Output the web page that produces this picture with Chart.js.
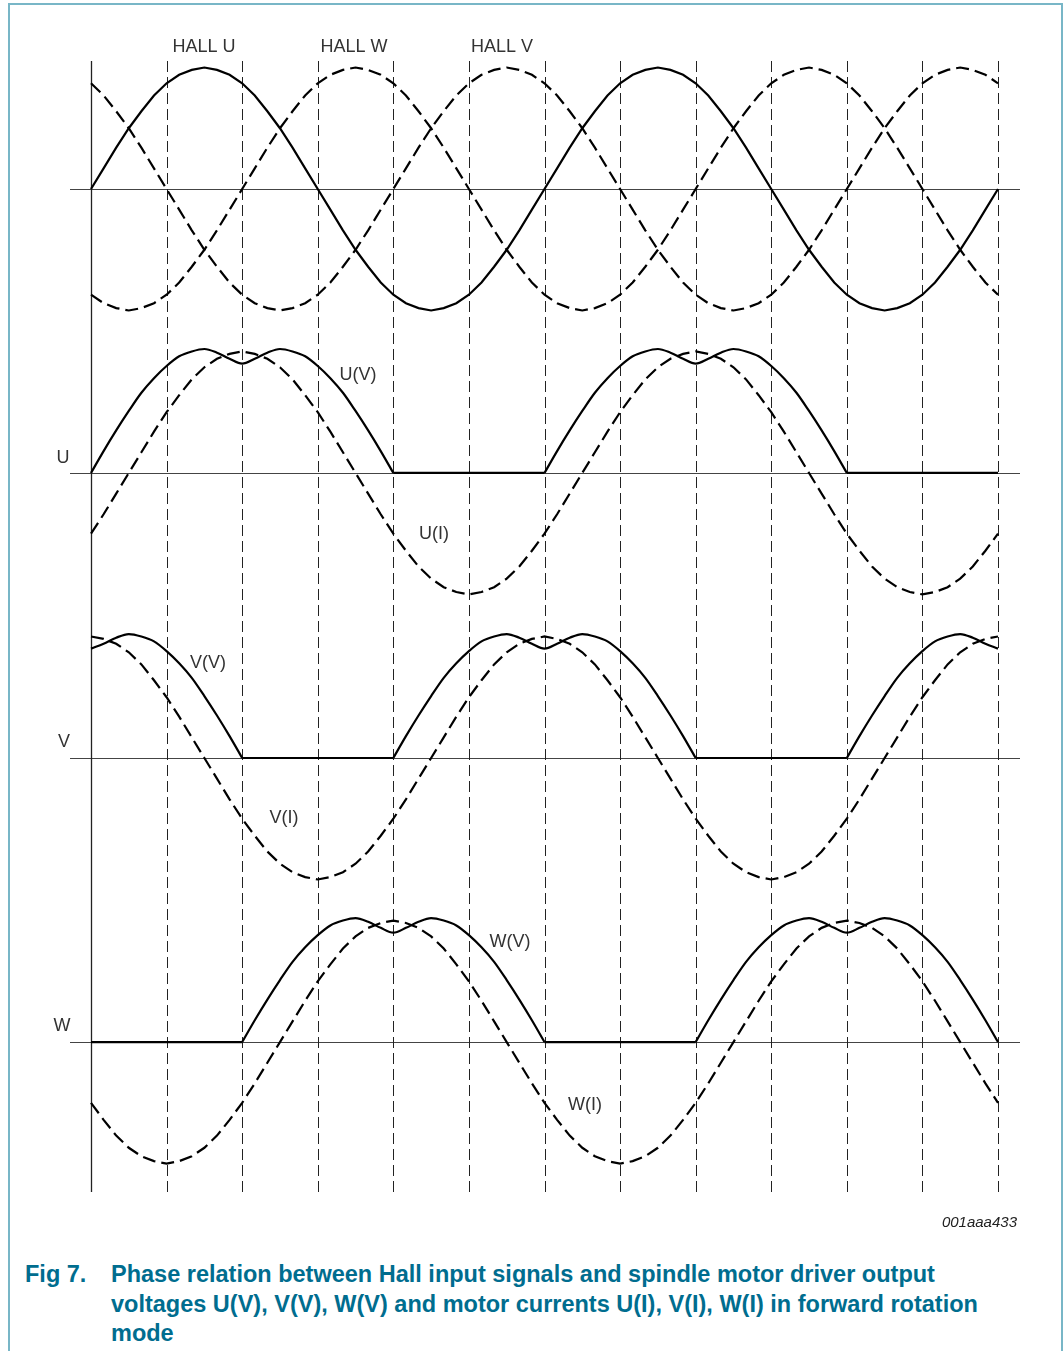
<!DOCTYPE html>
<html>
<head>
<meta charset="utf-8">
<script src="https://cdn.jsdelivr.net/npm/chart.js@4.4.0/dist/chart.umd.min.js"></script>
<style>
  html, body { margin: 0; padding: 0; background: #fff; }
  #page { position: relative; width: 1064px; height: 1351px; overflow: hidden; }
  #frame { position: absolute; left: 8px; top: 3px; width: 1055px; height: 1400px;
           border: 2px solid #78b6c7; border-bottom: none; box-sizing: border-box; }
  #graf { position: absolute; left: 0; top: 0; }
  #code { position: absolute; right: 47px; top: 1213px; color: #222;
          font: italic 15px "Liberation Sans", Arial, sans-serif; }
  #caption { position: absolute; left: 25px; top: 1260px; white-space: nowrap; color: #006d8f;
             font: bold 23.5px/29.5px "Liberation Sans", Arial, sans-serif; }
  #caption .fig { position: absolute; left: 0; top: 0; }
  #caption .txt { margin-left: 86px; }
</style>
</head>
<body>
<div id="page">
  <div id="frame"></div>
  <canvas id="graf" width="1064" height="1240"></canvas>
  <div id="code">001aaa433</div>
  <div id="caption">
    <span class="fig">Fig 7.</span>
    <div class="txt">Phase relation between Hall input signals and spindle motor driver output<br>voltages U(V), V(V), W(V) and motor currents U(I), V(I), W(I) in forward rotation<br>mode</div>
  </div>
</div>
<script>
// electrical angle in degrees, every 10 degrees over two periods
const angulos = [0,10,20,30,40,50,60,70,80,90,100,110,120,130,140,150,160,170,
  180,190,200,210,220,230,240,250,260,270,280,290,300,310,320,330,340,350,
  360,370,380,390,400,410,420,430,440,450,460,470,480,490,500,510,520,530,
  540,550,560,570,580,590,600,610,620,630,640,650,660,670,680,690,700,710,720];

// hall sensor signals (100 = peak)
const hallU = [0,17,34,50,64,77,87,94,98,100,98,94,87,77,64,50,34,17,0,-17,-34,-50,-64,-77,-87,-94,-98,-100,-98,-94,-87,-77,-64,-50,-34,-17,
  0,17,34,50,64,77,87,94,98,100,98,94,87,77,64,50,34,17,0,-17,-34,-50,-64,-77,-87,-94,-98,-100,-98,-94,-87,-77,-64,-50,-34,-17,0];
const hallW = [-87,-94,-98,-100,-98,-94,-87,-77,-64,-50,-34,-17,0,17,34,50,64,77,87,94,98,100,98,94,87,77,64,50,34,17,0,-17,-34,-50,-64,-77,
  -87,-94,-98,-100,-98,-94,-87,-77,-64,-50,-34,-17,0,17,34,50,64,77,87,94,98,100,98,94,87,77,64,50,34,17,0,-17,-34,-50,-64,-77,-87];
const hallV = [87,77,64,50,34,17,0,-17,-34,-50,-64,-77,-87,-94,-98,-100,-98,-94,-87,-77,-64,-50,-34,-17,0,17,34,50,64,77,87,94,98,100,98,94,
  87,77,64,50,34,17,0,-17,-34,-50,-64,-77,-87,-94,-98,-100,-98,-94,-87,-77,-64,-50,-34,-17,0,17,34,50,64,77,87,94,98,100,98,94,87];

// driver output voltages
const tensaoU = [0,18,35,51,66,78,88,96,100,102,99,94,90,94,99,102,100,96,88,78,66,51,35,18,0,0,0,0,0,0,0,0,0,0,0,0,
  0,18,35,51,66,78,88,96,100,102,99,94,90,94,99,102,100,96,88,78,66,51,35,18,0,0,0,0,0,0,0,0,0,0,0,0,0];
const tensaoV = [90,94,99,102,100,96,88,78,66,51,35,18,0,0,0,0,0,0,0,0,0,0,0,0,0,18,35,51,66,78,88,96,100,102,99,94,
  90,94,99,102,100,96,88,78,66,51,35,18,0,0,0,0,0,0,0,0,0,0,0,0,0,18,35,51,66,78,88,96,100,102,99,94,90];
const tensaoW = [0,0,0,0,0,0,0,0,0,0,0,0,0,18,35,51,66,78,88,96,100,102,99,94,90,94,99,102,100,96,88,78,66,51,35,18,
  0,0,0,0,0,0,0,0,0,0,0,0,0,18,35,51,66,78,88,96,100,102,99,94,90,94,99,102,100,96,88,78,66,51,35,18,0];

// motor currents
const correnteU = [-50,-34,-17,0,17,34,50,64,77,87,94,98,100,98,94,87,77,64,50,34,17,0,-17,-34,-50,-64,-77,-87,-94,-98,-100,-98,-94,-87,-77,-64,
  -50,-34,-17,0,17,34,50,64,77,87,94,98,100,98,94,87,77,64,50,34,17,0,-17,-34,-50,-64,-77,-87,-94,-98,-100,-98,-94,-87,-77,-64,-50];
const correnteV = [100,98,94,87,77,64,50,34,17,0,-17,-34,-50,-64,-77,-87,-94,-98,-100,-98,-94,-87,-77,-64,-50,-34,-17,0,17,34,50,64,77,87,94,98,
  100,98,94,87,77,64,50,34,17,0,-17,-34,-50,-64,-77,-87,-94,-98,-100,-98,-94,-87,-77,-64,-50,-34,-17,0,17,34,50,64,77,87,94,98,100];
const correnteW = [-50,-64,-77,-87,-94,-98,-100,-98,-94,-87,-77,-64,-50,-34,-17,0,17,34,50,64,77,87,94,98,100,98,94,87,77,64,50,34,17,0,-17,-34,
  -50,-64,-77,-87,-94,-98,-100,-98,-94,-87,-77,-64,-50,-34,-17,0,17,34,50,64,77,87,94,98,100,98,94,87,77,64,50,34,17,0,-17,-34,-50];

// hall transition marks (vertical lines)
const marcas = [0,60,120,180,240,300,360,420,480,540,600,660,720];

// zero level of each panel (hall, U, V, W) in chart units
const niveis = [0, -233.7, -468.3, -702.1];

// text labels on the drawing
const rotulos = [
  { t: "HALL U", x: 204, y: 47 }, { t: "HALL W", x: 354, y: 47 }, { t: "HALL V", x: 502, y: 47 },
  { t: "U", x: 63, y: 458 }, { t: "V", x: 64, y: 742 }, { t: "W", x: 62, y: 1026 },
  { t: "U(V)", x: 358, y: 375 }, { t: "U(I)", x: 434, y: 534 },
  { t: "V(V)", x: 208, y: 663 }, { t: "V(I)", x: 284, y: 818 },
  { t: "W(V)", x: 510, y: 942 }, { t: "W(I)", x: 585, y: 1105 }
];

function serie(valores, nivel, tracejado) {
  return {
    data: angulos.map((a, i) => ({ x: a, y: nivel + valores[i] })),
    borderColor: "#000",
    borderWidth: 2.2,
    borderDash: tracejado ? [13, 6] : [],
    pointRadius: 0,
    tension: 0,
    clip: 6
  };
}

// voltage: rounded humps (monotone spline) + straight flat parts, split at the corners
function tensao(valores, nivel) {
  const ativo = (i) => valores[i] !== 0 || valores[i - 1] > 0 || valores[i + 1] > 0;
  const corcova = serie(valores, nivel, false);
  corcova.data = angulos.map((a, i) => ({ x: a, y: ativo(i) ? nivel + valores[i] : null }));
  corcova.cubicInterpolationMode = "monotone";
  corcova.spanGaps = false;
  const plano = serie(valores, nivel, false);
  plano.data = angulos.map((a, i) => ({ x: a, y: valores[i] === 0 ? nivel : null }));
  plano.spanGaps = false;
  return [corcova, plano];
}

const desenho = {
  id: "desenho",
  beforeDatasetsDraw(chart) {
    const { ctx, chartArea: a, scales: { x, y } } = chart;
    ctx.save();
    ctx.strokeStyle = "#444";
    ctx.lineWidth = 1.2;
    niveis.forEach((n) => {
      const py = Math.round(y.getPixelForValue(n)) + 0.5;
      ctx.beginPath();
      ctx.moveTo(a.left - 21, py);
      ctx.lineTo(a.right + 22, py);
      ctx.stroke();
    });
    ctx.strokeStyle = "#222";
    marcas.forEach((m, i) => {
      const px = Math.round(x.getPixelForValue(m)) + 0.5;
      ctx.lineWidth = i === 0 ? 1.3 : 1;
      ctx.setLineDash(i === 0 ? [] : [11, 5]);
      ctx.beginPath();
      ctx.moveTo(px, a.top);
      ctx.lineTo(px, a.bottom);
      ctx.stroke();
    });
    ctx.restore();
  },
  afterDraw(chart) {
    const ctx = chart.ctx;
    ctx.save();
    ctx.fillStyle = "#333";
    ctx.font = '18px "Liberation Sans", Arial, sans-serif';
    ctx.textAlign = "center";
    ctx.textBaseline = "middle";
    rotulos.forEach((r) => ctx.fillText(r.t, r.x, r.y));
    ctx.restore();
  }
};

new Chart(document.getElementById("graf"), {
  type: "line",
  data: {
    datasets: [
      serie(hallU, niveis[0], false),
      serie(hallW, niveis[0], true),
      serie(hallV, niveis[0], true),
      ...tensao(tensaoU, niveis[1]),
      serie(correnteU, niveis[1], true),
      ...tensao(tensaoV, niveis[2]),
      serie(correnteV, niveis[2], true),
      ...tensao(tensaoW, niveis[3]),
      serie(correnteW, niveis[3], true)
    ]
  },
  options: {
    responsive: false,
    animation: false,
    layout: { padding: { left: 91, right: 66, top: 61, bottom: 48 } },
    scales: {
      x: { type: "linear", min: 0, max: 720, display: false },
      y: { type: "linear", min: -825.5, max: 105.35, display: false }
    },
    plugins: { legend: { display: false }, tooltip: { enabled: false } }
  },
  plugins: [desenho]
});
</script>
</body>
</html>
